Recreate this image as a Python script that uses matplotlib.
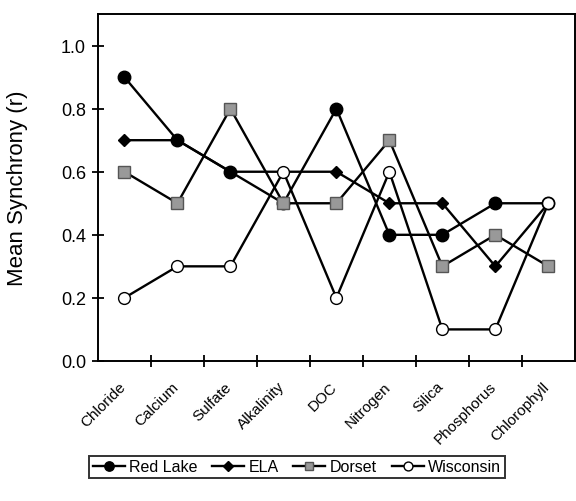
import matplotlib.pyplot as plt
import matplotlib.transforms as mtransforms
import numpy as np

plt.rcParams['font.family'] = ['Liberation Sans', 'DejaVu Sans']

categories = ['Chloride', 'Calcium', 'Sulfate', 'Alkalinity', 'DOC',
              'Nitrogen', 'Silica', 'Phosphorus', 'Chlorophyll']
red_lake = [0.9, 0.7, 0.6, 0.5, 0.8, 0.4, 0.4, 0.5, 0.5]
ela = [0.7, 0.7, 0.6, 0.6, 0.6, 0.5, 0.5, 0.3, 0.5]
dorset = [0.6, 0.5, 0.8, 0.5, 0.5, 0.7, 0.3, 0.4, 0.3]
wisconsin = [0.2, 0.3, 0.3, 0.6, 0.2, 0.6, 0.1, 0.1, 0.5]
y_ticks = [0.0, 0.2, 0.4, 0.6, 0.8, 1.0]

x = np.arange(len(categories))

fig = plt.figure(figsize=(5.76, 5.02), dpi=100)
ax = fig.add_axes([0.170, 0.279, 0.828, 0.691])

# drawing order: ELA at the bottom, Wisconsin on top
ax.plot(x, red_lake, color='black', lw=1.7, marker='o', ms=9,
        mfc='black', mec='black', label='Red Lake', zorder=4)
ax.plot(x, ela, color='black', lw=1.7, marker='D', ms=6.5,
        mfc='black', mec='black', label='ELA', zorder=3)
ax.plot(x, dorset, color='black', lw=1.7, marker='s', ms=8.5,
        mfc='#999999', mec='#555555', mew=1.0, label='Dorset', zorder=5)
ax.plot(x, wisconsin, color='black', lw=1.7, marker='o', ms=8.5,
        mfc='white', mec='black', mew=1.0, label='Wisconsin', zorder=6)

ax.set_xlim(-0.5, len(categories) - 0.5)
ax.set_ylim(0, 1.1)
ax.set_yticks(y_ticks)
ax.set_yticklabels(['%.1f' % v for v in y_ticks], fontsize=13)
ax.tick_params(axis='y', direction='inout', length=9, width=1.3, pad=4)

# labels at category centres, tick marks at bin edges
ax.set_xticks(x)
ax.set_xticklabels(categories, rotation=45, ha='right', rotation_mode='anchor',
                   fontsize=11)
ax.tick_params(axis='x', which='major', length=0, pad=13)
shift = mtransforms.ScaledTranslation(-6 / 100, 0, fig.dpi_scale_trans)
for lab in ax.get_xticklabels():
    lab.set_transform(lab.get_transform() + shift)
ax.set_xticks(np.arange(len(categories) - 1) + 0.5, minor=True)
ax.tick_params(axis='x', which='minor', direction='inout', length=9, width=1.3)

for s in ax.spines.values():
    s.set_linewidth(1.4)

ax.set_ylabel('Mean Synchrony (r)', fontsize=16, labelpad=24)

leg = fig.legend(loc='center', bbox_to_anchor=(297 / 576, 1 - 468 / 502),
                 ncol=4, fontsize=11.5, frameon=True, fancybox=False,
                 handlelength=2.0, handletextpad=0.3, columnspacing=0.9,
                 borderpad=0.25, markerscale=0.75)
leg.get_frame().set_edgecolor('black')
leg.get_frame().set_linewidth(1.4)

fig.savefig('out.png', dpi=100)
